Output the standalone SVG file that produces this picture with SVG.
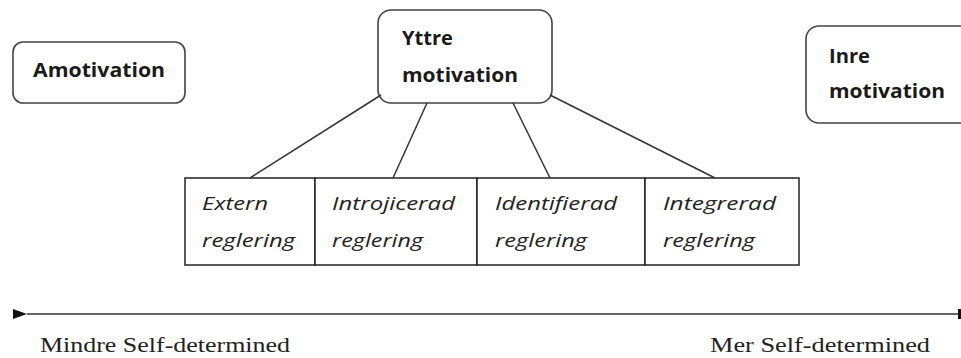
<svg xmlns="http://www.w3.org/2000/svg" width="961" height="358" viewBox="0 0 961 358">
<style>
.box{fill:#fff;stroke:#444;stroke-width:1.6}
.cell{fill:#fff;stroke:#222;stroke-width:1.5}
.b{font-family:"Open Sans","Liberation Sans",sans-serif;font-weight:bold;font-size:19px;fill:#1a1a1a}
.i{font-family:"Open Sans","Liberation Sans",sans-serif;font-style:italic;font-size:18px;fill:#222}
.s{font-family:"Liberation Serif","DejaVu Serif",serif;font-size:22px;fill:#222}
.con{stroke:#333;stroke-width:1.5;fill:none}
</style>
<defs>
<marker id="ah" viewBox="0 0 14 10" refX="0" refY="5" markerWidth="14" markerHeight="10" markerUnits="userSpaceOnUse" orient="auto-start-reverse">
<path d="M14,0 L0,5 L14,10 Z" fill="#111"/>
</marker>
</defs>
<g id="amotivation">
<rect class="box" x="13" y="42" width="172" height="61" rx="10"/>
<text class="b" x="33" y="77" textLength="132" lengthAdjust="spacingAndGlyphs">Amotivation</text>
</g>
<g id="yttre">
<rect class="box" x="378" y="10" width="174" height="93" rx="13"/>
<text class="b" x="402" y="45" textLength="51" lengthAdjust="spacingAndGlyphs">Yttre</text>
<text class="b" x="402" y="82" textLength="116" lengthAdjust="spacingAndGlyphs">motivation</text>
</g>
<g id="inre">
<rect class="box" x="806" y="26" width="180" height="97" rx="13"/>
<text class="b" x="829" y="63" textLength="41" lengthAdjust="spacingAndGlyphs">Inre</text>
<text class="b" x="829" y="98" textLength="116" lengthAdjust="spacingAndGlyphs">motivation</text>
</g>
<g id="extern">
<rect class="cell" x="185" y="178" width="130" height="87"/>
<text class="i" x="202" y="210" textLength="66" lengthAdjust="spacingAndGlyphs">Extern</text>
<text class="i" x="202" y="247" textLength="93" lengthAdjust="spacingAndGlyphs">reglering</text>
</g>
<g id="introjicerad">
<rect class="cell" x="315" y="178" width="162" height="87"/>
<text class="i" x="332" y="210" textLength="123" lengthAdjust="spacingAndGlyphs">Introjicerad</text>
<text class="i" x="332" y="247" textLength="91" lengthAdjust="spacingAndGlyphs">reglering</text>
</g>
<g id="identifierad">
<rect class="cell" x="477" y="178" width="168" height="87"/>
<text class="i" x="495" y="210" textLength="122" lengthAdjust="spacingAndGlyphs">Identifierad</text>
<text class="i" x="495" y="247" textLength="92" lengthAdjust="spacingAndGlyphs">reglering</text>
</g>
<g id="integrerad">
<rect class="cell" x="645" y="178" width="154" height="87"/>
<text class="i" x="663" y="210" textLength="113" lengthAdjust="spacingAndGlyphs">Integrerad</text>
<text class="i" x="663" y="247" textLength="92" lengthAdjust="spacingAndGlyphs">reglering</text>
</g>
<g id="connectors">
<line class="con" x1="381" y1="95" x2="250" y2="178"/>
<line class="con" x1="427" y1="103" x2="393" y2="178"/>
<line class="con" x1="513" y1="103" x2="550" y2="178"/>
<line class="con" x1="550" y1="95" x2="715" y2="178"/>
<line class="con" x1="27" y1="314" x2="961" y2="314" marker-start="url(#ah)"/>
<rect x="958" y="309" width="3" height="10" fill="#111"/>
</g>
<g id="labels">
<text class="s" x="40" y="352" textLength="250" lengthAdjust="spacingAndGlyphs">Mindre Self-determined</text>
<text class="s" x="710" y="352" textLength="220" lengthAdjust="spacingAndGlyphs">Mer Self-determined</text>
</g>
</svg>
